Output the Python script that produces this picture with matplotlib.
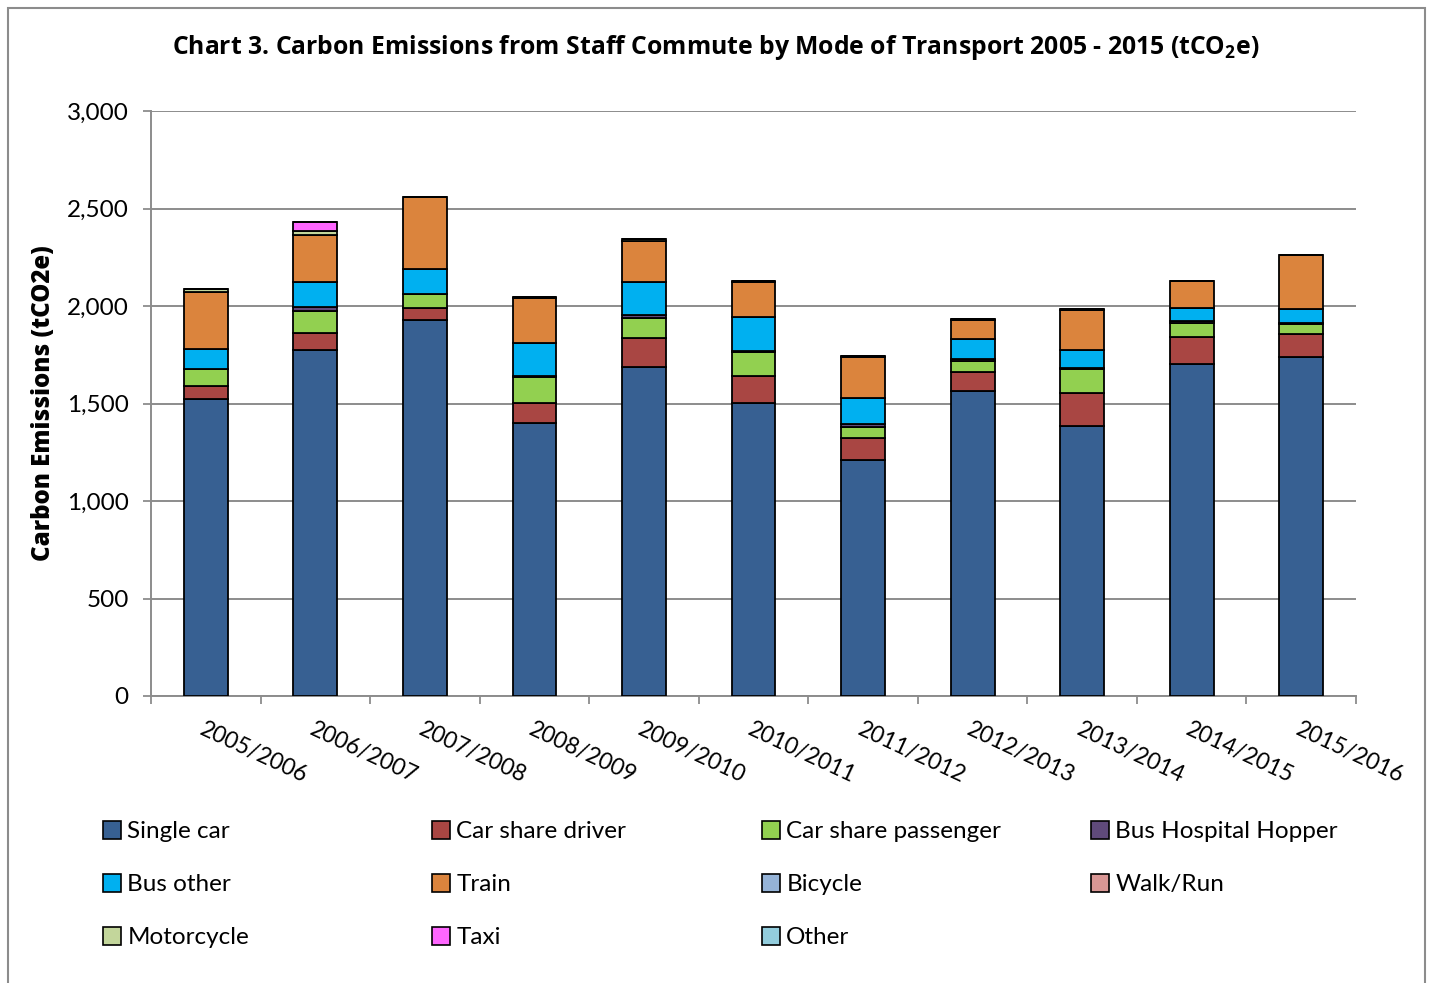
import matplotlib
matplotlib.use("Agg")
import matplotlib.pyplot as plt
from matplotlib.patches import Rectangle, Patch
import numpy as np

plt.rcParams['font.family'] = ['Lato', 'DejaVu Sans']

years = ["2005/2006", "2006/2007", "2007/2008", "2008/2009", "2009/2010", "2010/2011",
         "2011/2012", "2012/2013", "2013/2014", "2014/2015", "2015/2016"]

single_car = [1523, 1774, 1928, 1400, 1687, 1503, 1210, 1564, 1385, 1702, 1738]
car_share_driver = [67, 87, 62, 103, 149, 138, 113, 97, 169, 139, 118]
car_share_passenger = [87, 113, 72, 133, 102, 123, 57, 57, 123, 72, 52]
bus_hospital_hopper = [0, 21, 0, 5, 16, 5, 15, 10, 5, 10, 5]
bus_other = [102, 128, 128, 169, 169, 175, 133, 103, 92, 67, 72]
train = [293, 241, 369, 231, 210, 179, 210, 97, 205, 138, 277]
bicycle = [0, 0, 0, 0, 0, 0, 0, 0, 0, 0, 0]
walk_run = [0, 0, 0, 0, 0, 0, 0, 0, 0, 0, 0]
motorcycle = [15, 21, 0, 5, 11, 3, 5, 5, 6, 0, 0]
taxi = [0, 46, 0, 0, 0, 0, 0, 0, 0, 0, 0]
other = [0, 0, 0, 0, 0, 0, 0, 0, 0, 0, 0]

series_names = ["Single car", "Car share driver", "Car share passenger", "Bus Hospital Hopper",
                "Bus other", "Train", "Bicycle", "Walk/Run", "Motorcycle", "Taxi", "Other"]
series_values = [single_car, car_share_driver, car_share_passenger, bus_hospital_hopper,
                 bus_other, train, bicycle, walk_run, motorcycle, taxi, other]
colors = ["#376092", "#A94643", "#92D050", "#604A7B", "#00B0F0", "#DB843D",
          "#95B3D7", "#D99795", "#C3D69B", "#FF66FF", "#93CDDD"]

W, H = 1432, 983
fig = plt.figure(figsize=(W / 100, H / 100), dpi=100)
ax = fig.add_axes([151 / W, 1 - 696 / H, (1356 - 151) / W, (696 - 111) / H])

x = np.arange(len(years))
bottom = np.zeros(len(years))
for name, vals, c in zip(series_names, series_values, colors):
    v = np.array(vals, dtype=float)
    ax.bar(x, v, width=0.4, bottom=bottom, color=c, edgecolor="black", linewidth=1.3,
           label=name, zorder=3)
    bottom += v

ax.set_xlim(-0.5, len(years) - 0.5)
ax.set_ylim(0, 3000)
ax.set_yticks(np.arange(0, 3001, 500))
ax.set_yticklabels([f"{int(v):,}" for v in np.arange(0, 3001, 500)], fontsize=17.5)
ax.yaxis.grid(True, color="#8C8C8C", linewidth=1.4, zorder=0)
ax.set_axisbelow(True)

ax.set_xticks(x)
ax.set_xticklabels(years, fontsize=16.5, rotation=-25, ha="left", va="top",
                   rotation_mode="anchor")
ax.tick_params(axis="x", which="major", length=0, pad=16)
ax.set_xticks(np.arange(-0.5, len(years), 1.0), minor=True)
ax.tick_params(axis="x", which="minor", length=6, width=1.3, color="#8C8C8C")
ax.tick_params(axis="y", length=6, width=1.3, color="#8C8C8C", pad=10)

for s in ["top", "right"]:
    ax.spines[s].set_visible(False)
for s in ["left", "bottom"]:
    ax.spines[s].set_color("#8C8C8C")
    ax.spines[s].set_linewidth(1.4)

ax.set_ylabel("Carbon Emissions (tCO2e)", fontsize=17.3, fontweight="heavy", labelpad=8,
              family=["Open Sans", "DejaVu Sans"])

fig.text(716 / W, 1 - 48 / H,
         "Chart 3. Carbon Emissions from Staff Commute by Mode of Transport 2005 - 2015 (tCO$_\\mathregular{2}$e)",
         ha="center", va="center", fontsize=17.8, fontweight="bold",
         family=["Open Sans", "DejaVu Sans"])

# chart border
fig.patches.append(Rectangle((8 / W, -0.05), (1425 - 8) / W, 1 - 8 / H + 0.05,
                             transform=fig.transFigure, fill=False,
                             edgecolor="#8C8C8C", linewidth=1.5))

# legend, 4 evenly spaced columns filled row-wise
col_x = [103, 432, 762, 1091]
for ci in range(4):
    idx = list(range(ci, len(series_names), 4))
    handles = [Patch(facecolor=colors[i], edgecolor="black", linewidth=1.2) for i in idx]
    labels = [series_names[i] for i in idx]
    fig.legend(handles, labels, loc="upper left",
               bbox_to_anchor=(col_x[ci] / W, 1 - 821 / H),
               frameon=False, fontsize=17.5, handlelength=0.75, handleheight=0.75,
               handletextpad=0.25, labelspacing=1.3, borderaxespad=0, borderpad=0)

fig.savefig("out.png", dpi=100)
